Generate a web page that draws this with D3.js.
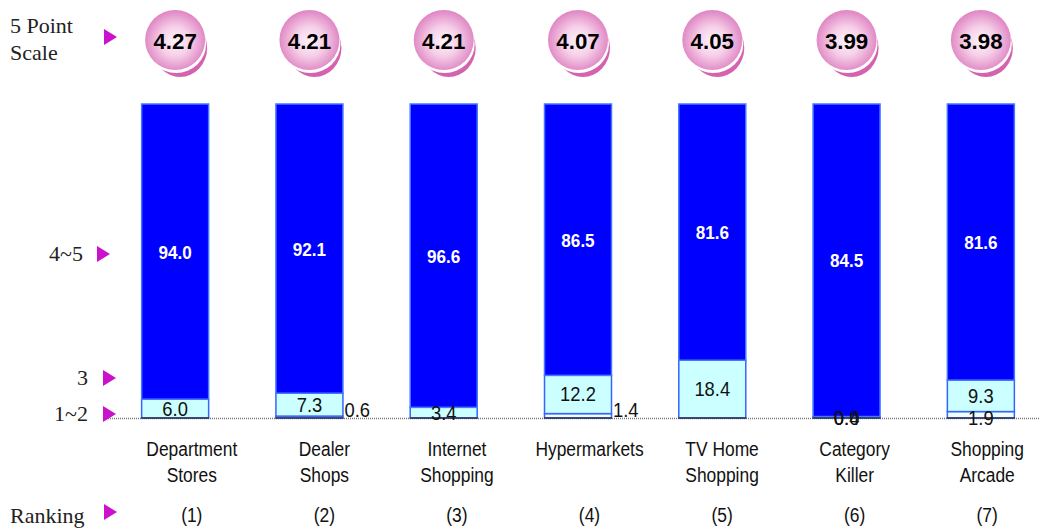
<!DOCTYPE html>
<html>
<head>
<meta charset="utf-8">
<script src="https://cdn.jsdelivr.net/npm/d3@7"></script>
<style>
  body { margin: 0; background: #fff; }
  svg { display: block; }
</style>
</head>
<body>
<div id="chart"></div>
<script>
// data
const categories = [["Department", "Stores"], ["Dealer", "Shops"], ["Internet", "Shopping"],
  ["Hypermarkets"], ["TV Home", "Shopping"], ["Category", "Killer"], ["Shopping", "Arcade"]];
const scores = [4.27, 4.21, 4.21, 4.07, 4.05, 3.99, 3.98];
const low = [0, 0.6, 0, 1.4, 0, 0.0, 1.9];      // 1~2
const mid = [6.0, 7.3, 3.4, 12.2, 18.4, 0.4, 9.3]; // 3
const high = [94.0, 92.1, 96.6, 86.5, 81.6, 84.5, 81.6]; // 4~5
const rankings = ["(1)", "(2)", "(3)", "(4)", "(5)", "(6)", "(7)"];
const lowLabelOutside = [false, true, false, true, false, false, false];

const width = 1042, height = 529;
const svg = d3.select("#chart").append("svg")
  .attr("width", width).attr("height", height);

const names = categories.map(d => d.join(" "));
const x = d3.scalePoint().domain(names).range([108, 1048]).padding(0.5);
// the category text row sits on its own grid, a little right of the bars
const xText = d3.scalePoint().domain(names).range([125.5, 1053.5]).padding(0.5);
const y = d3.scaleLinear().domain([0, 1]).range([418, 104]);
const barW = 68;

const sans = "Arial, 'Liberation Sans', sans-serif";
const serif = "'Liberation Serif', 'Times New Roman', serif";

// squeezed text, the original uses a narrow face
function label(sel, px, py, txt, font, opts = {}) {
  return sel.append("text")
    .attr("transform", `translate(${px},${py}) scale(${opts.sx || 0.87},1)`)
    .attr("text-anchor", opts.anchor || "middle")
    .attr("fill", opts.fill || "#111")
    .style("font", font)
    .text(txt);
}

// gradients for bubbles
const defs = svg.append("defs");
const grad = defs.append("radialGradient").attr("id", "ball")
  .attr("cx", "50%").attr("cy", "52%").attr("r", "55%");
grad.append("stop").attr("offset", "0%").attr("stop-color", "#fdf4fa");
grad.append("stop").attr("offset", "45%").attr("stop-color", "#f6cfe8");
grad.append("stop").attr("offset", "100%").attr("stop-color", "#dc7cbf");

// stacked data, normalised to 100%
const rows = names.map((n, i) => {
  const tot = low[i] + mid[i] + high[i];
  return { name: n, i, low: low[i] / tot, mid: mid[i] / tot, high: high[i] / tot };
});
const stack = d3.stack().keys(["low", "mid", "high"]);
const series = stack(rows);
const fills = { low: "#f2fdff", mid: "#ccffff", high: "#0000ff" };
const strokes = { low: "#3366ff", mid: "#3366ff", high: "#4477ff" };

// baseline dotted
svg.append("line").attr("x1", 108).attr("x2", 1040).attr("y1", y(0) + 0.5).attr("y2", y(0) + 0.5)
  .attr("stroke", "#777").attr("stroke-width", 1.5).attr("stroke-dasharray", "1,1");

svg.append("g").selectAll("g").data(series).join("g")
  .each(function(s) {
    d3.select(this).selectAll("rect").data(s).join("rect")
      .attr("x", d => x(d.data.name) - barW / 2 + 0.5)
      .attr("width", barW - 1)
      .attr("y", d => y(d[1]))
      .attr("height", d => Math.max(0, y(d[0]) - y(d[1])))
      .attr("fill", fills[s.key])
      .attr("stroke", strokes[s.key])
      .attr("stroke-width", 1.5);
  });

// bottom edge of bars
svg.append("g").selectAll("line").data(rows).join("line")
  .attr("x1", d => x(d.name) - barW / 2).attr("x2", d => x(d.name) + barW / 2)
  .attr("y1", y(0)).attr("y2", y(0))
  .attr("stroke", "#334").attr("stroke-width", 1.5);

// segment labels
const hi = series[2], md = series[1], lo = series[0];
const gl = svg.append("g");
hi.forEach((d, i) => {
  label(gl, x(d.data.name), (y(d[0]) + y(d[1])) / 2 + 7, high[i].toFixed(1),
    `bold 19px ${sans}`, { fill: "#fff", sx: 0.9 });
});
md.forEach((d, i) => {
  const py = mid[i] < 2 ? y(0) + 7 : (y(d[0]) + y(d[1])) / 2 + 7;
  label(gl, x(d.data.name), py, mid[i].toFixed(1), `20px ${sans}`, { sx: 0.92 });
});
lo.forEach((d, i) => {
  if (low[i] === 0 && mid[i] >= 2) return;
  if (lowLabelOutside[i]) {
    label(gl, x(d.data.name) + barW / 2 + 1, y(0) - 1, low[i].toFixed(1), `20px ${sans}`,
      { anchor: "start", sx: 0.92 });
  } else {
    label(gl, x(d.data.name), y(0) + 7, low[i].toFixed(1), `20px ${sans}`, { sx: 0.92 });
  }
});

// bubbles with scores
const bub = svg.append("g").selectAll("g").data(rows).join("g")
  .attr("transform", d => `translate(${x(d.name)},40)`);
bub.append("ellipse").attr("cx", 5).attr("cy", 8).attr("rx", 27).attr("ry", 29).attr("fill", "#d462ae");
bub.append("ellipse").attr("cx", 1).attr("cy", 4).attr("rx", 30).attr("ry", 29).attr("fill", "#fff");
bub.append("circle").attr("r", 30).attr("fill", "url(#ball)");
bub.each(function(d) {
  label(d3.select(this), 0, 9, scores[d.i].toFixed(2), `bold 23px ${sans}`, { fill: "#000", sx: 0.97 });
});

// category labels and ranking
const gc = svg.append("g");
rows.forEach(d => {
  categories[d.i].forEach((t, j) => {
    label(gc, xText(d.name), 456 + j * 26, t, `20px ${sans}`);
  });
  label(gc, xText(d.name), 522, rankings[d.i], `20px ${sans}`);
});

// left side labels with magenta markers
const leftLabels = [
  { lines: ["5 Point", "Scale"], x: 10, ys: [33, 60], anchor: "start", tx: 104, ty: 37 },
  { lines: ["4~5"], x: 83, ys: [261], anchor: "end", tx: 97, ty: 254 },
  { lines: ["3"], x: 88, ys: [385], anchor: "end", tx: 103, ty: 378 },
  { lines: ["1~2"], x: 88, ys: [421], anchor: "end", tx: 103, ty: 414 },
  { lines: ["Ranking"], x: 10, ys: [523], anchor: "start", tx: 104, ty: 512 }
];
leftLabels.forEach(l => {
  l.lines.forEach((t, j) => {
    svg.append("text").attr("x", l.x).attr("y", l.ys[j]).attr("text-anchor", l.anchor)
      .style("font", `22px ${serif}`).attr("fill", "#222").text(t);
  });
  svg.append("path").attr("d", `M${l.tx},${l.ty - 8}L${l.tx + 13},${l.ty}L${l.tx},${l.ty + 8}Z`)
    .attr("fill", "#cc11cc");
});
</script>
</body>
</html>
